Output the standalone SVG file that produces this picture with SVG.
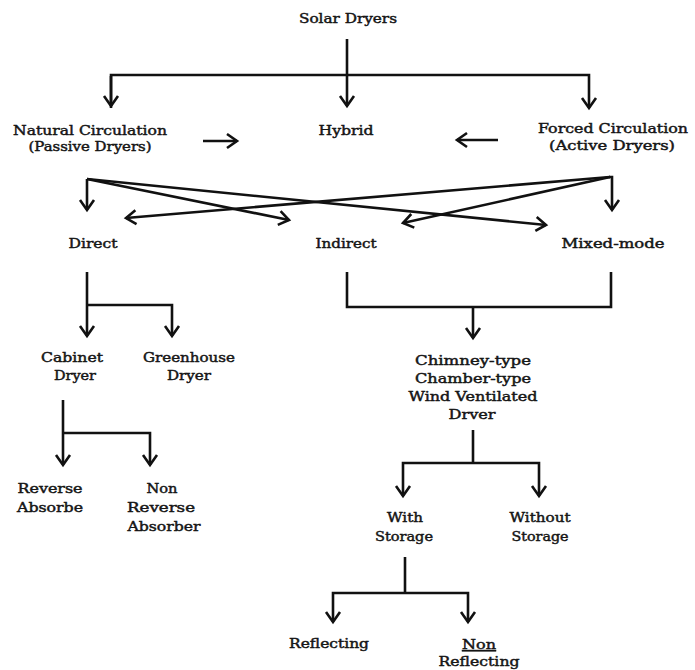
<svg xmlns="http://www.w3.org/2000/svg" width="695" height="670" viewBox="0 0 695 670">
<defs>
<style>
.t{font-family:"DejaVu Serif","Liberation Serif",serif;font-size:13px;text-anchor:middle;fill:#151515;stroke:#151515;stroke-width:0.45px;}
.c{fill:none;stroke:#111;stroke-width:2.6;stroke-linejoin:miter;}
</style>
<marker id="ah" markerUnits="userSpaceOnUse" markerWidth="20" markerHeight="20" refX="0" refY="0" viewBox="-12 -10 14 20" orient="auto" overflow="visible">
<path d="M-10,-7 L0,0 L-10,7" fill="none" stroke="#111" stroke-width="2.6"/>
</marker>
</defs>
<rect width="695" height="670" fill="#fff"/>
<g id="connectors" class="c">
<path d="M347,39 V106" marker-end="url(#ah)"/>
<path d="M111,108 V75 H589 V108" marker-end="url(#ah)"/>
<path d="M111,76 V106" marker-end="url(#ah)"/>
<path d="M203,141 H237" marker-end="url(#ah)"/>
<path d="M498,140 H457" marker-end="url(#ah)"/>
<path d="M87,179 V210" marker-end="url(#ah)"/>
<path d="M87,179 L289,220" marker-end="url(#ah)"/>
<path d="M87,179 L546,225" marker-end="url(#ah)"/>
<path d="M610,177 L126,218" marker-end="url(#ah)"/>
<path d="M610,177 L403,223" marker-end="url(#ah)"/>
<path d="M609,177 H612 V210" marker-end="url(#ah)"/>
<path d="M87,272 V336" marker-end="url(#ah)"/>
<path d="M87,305 H172 V336" marker-end="url(#ah)"/>
<path d="M63,400 V465" marker-end="url(#ah)"/>
<path d="M63,433 H150 V465" marker-end="url(#ah)"/>
<path d="M347,272 V307 H611 V272"/>
<path d="M473,307 V338" marker-end="url(#ah)"/>
<path d="M473,430 V463"/>
<path d="M473,463 H403 V496" marker-end="url(#ah)"/>
<path d="M473,463 H539 V496" marker-end="url(#ah)"/>
<path d="M405,557 V593"/>
<path d="M405,593 H333 V622" marker-end="url(#ah)"/>
<path d="M405,593 H468 V622" marker-end="url(#ah)"/>
</g>
<g id="solar-dryers"><text class="t" x="348" y="23" textLength="98" lengthAdjust="spacingAndGlyphs">Solar Dryers</text></g>
<g id="natural-circulation">
<text class="t" x="90" y="135" textLength="154" lengthAdjust="spacingAndGlyphs">Natural Circulation</text>
<text class="t" x="90" y="151" textLength="123" lengthAdjust="spacingAndGlyphs">(Passive Dryers)</text>
</g>
<g id="hybrid"><text class="t" x="346" y="135" textLength="55" lengthAdjust="spacingAndGlyphs">Hybrid</text></g>
<g id="forced-circulation">
<text class="t" x="613" y="133" textLength="150" lengthAdjust="spacingAndGlyphs">Forced Circulation</text>
<text class="t" x="612" y="150" textLength="126" lengthAdjust="spacingAndGlyphs">(Active Dryers)</text>
</g>
<g id="direct"><text class="t" x="93" y="248" textLength="49" lengthAdjust="spacingAndGlyphs">Direct</text></g>
<g id="indirect"><text class="t" x="346" y="248" textLength="61" lengthAdjust="spacingAndGlyphs">Indirect</text></g>
<g id="mixed-mode"><text class="t" x="613" y="248" textLength="103" lengthAdjust="spacingAndGlyphs">Mixed-mode</text></g>
<g id="cabinet-dryer">
<text class="t" x="72" y="362" textLength="62" lengthAdjust="spacingAndGlyphs">Cabinet</text>
<text class="t" x="75" y="380" textLength="42" lengthAdjust="spacingAndGlyphs">Dryer</text>
</g>
<g id="greenhouse-dryer">
<text class="t" x="189" y="362" textLength="92" lengthAdjust="spacingAndGlyphs">Greenhouse</text>
<text class="t" x="189" y="380" textLength="44" lengthAdjust="spacingAndGlyphs">Dryer</text>
</g>
<g id="chimney-type">
<text class="t" x="473" y="365" textLength="116" lengthAdjust="spacingAndGlyphs">Chimney-type</text>
<text class="t" x="473" y="383" textLength="116" lengthAdjust="spacingAndGlyphs">Chamber-type</text>
<text class="t" x="473" y="401" textLength="129" lengthAdjust="spacingAndGlyphs">Wind Ventilated</text>
<text class="t" x="472" y="419" textLength="47" lengthAdjust="spacingAndGlyphs">Drver</text>
</g>
<g id="reverse-absorbe">
<text class="t" x="50" y="493" textLength="65" lengthAdjust="spacingAndGlyphs">Reverse</text>
<text class="t" x="50" y="512" textLength="66" lengthAdjust="spacingAndGlyphs">Absorbe</text>
</g>
<g id="non-reverse-absorber">
<text class="t" x="162" y="493" textLength="31" lengthAdjust="spacingAndGlyphs">Non</text>
<text class="t" x="161" y="512" textLength="68" lengthAdjust="spacingAndGlyphs">Reverse</text>
<text class="t" x="164" y="531" textLength="73" lengthAdjust="spacingAndGlyphs">Absorber</text>
</g>
<g id="with-storage">
<text class="t" x="405" y="522" textLength="36" lengthAdjust="spacingAndGlyphs">With</text>
<text class="t" x="404" y="541" textLength="58" lengthAdjust="spacingAndGlyphs">Storage</text>
</g>
<g id="without-storage">
<text class="t" x="540" y="522" textLength="61" lengthAdjust="spacingAndGlyphs">Without</text>
<text class="t" x="540" y="541" textLength="57" lengthAdjust="spacingAndGlyphs">Storage</text>
</g>
<g id="reflecting"><text class="t" x="329" y="648" textLength="80" lengthAdjust="spacingAndGlyphs">Reflecting</text></g>
<g id="non-reflecting">
<text class="t" x="479" y="649" textLength="34" lengthAdjust="spacingAndGlyphs" text-decoration="underline">Non</text>
<text class="t" x="479" y="666" textLength="81" lengthAdjust="spacingAndGlyphs">Reflecting</text>
</g>
</svg>
